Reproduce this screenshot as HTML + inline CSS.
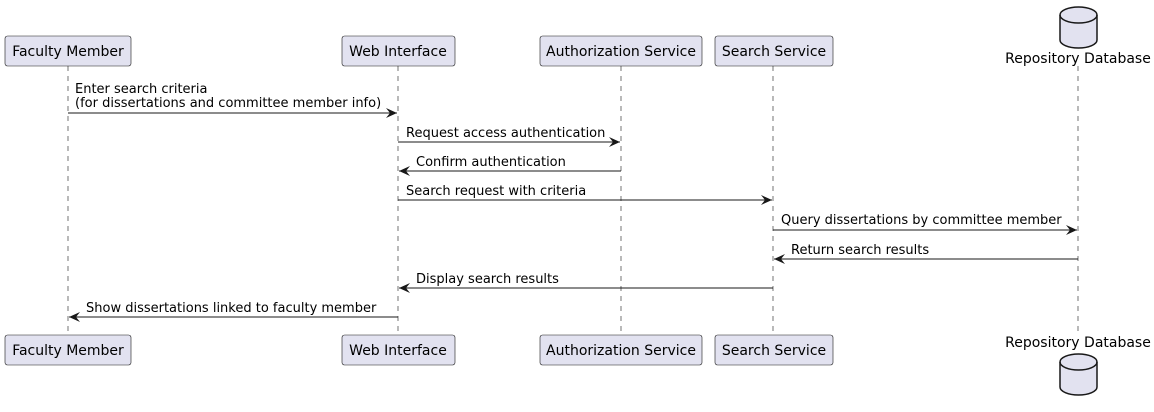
<!DOCTYPE html>
<html><head><style>body{margin:0;background:#fff}svg{display:block}text{font-family:"DejaVu Sans",sans-serif;font-size:13px;fill:#000}.h{font-size:14px}</style></head><body>
<svg width="1154" height="412" xmlns="http://www.w3.org/2000/svg">
<defs><marker id="a" markerWidth="12" markerHeight="10" refX="11" refY="5" orient="auto" markerUnits="userSpaceOnUse"><path d="M0,0 L11,5 L0,10 L4,5 Z" fill="#181818"/></marker></defs>
<g stroke="#181818" stroke-width="0.6" stroke-dasharray="5,5">
<line x1="68" y1="66" x2="68" y2="335"/><line x1="398" y1="66" x2="398" y2="335"/><line x1="621" y1="66" x2="621" y2="335"/><line x1="773" y1="66" x2="773" y2="335"/><line x1="1078" y1="66" x2="1078" y2="335"/>
</g>
<g fill="#E2E2F0" stroke="#181818" stroke-width="0.6">
<rect x="5" y="36" width="126" height="30" rx="2.5"/><rect x="342" y="36" width="113" height="30" rx="2.5"/><rect x="540" y="36" width="162" height="30" rx="2.5"/><rect x="715" y="36" width="118" height="30" rx="2.5"/>
<rect x="5" y="335" width="126" height="30" rx="2.5"/><rect x="342" y="335" width="113" height="30" rx="2.5"/><rect x="540" y="335" width="162" height="30" rx="2.5"/><rect x="715" y="335" width="118" height="30" rx="2.5"/>
</g>
<g fill="#E2E2F0" stroke="#181818" stroke-width="1.5">
<path d="M1060,15 A18.5,8 0 0 1 1097,15 L1097,40 A18.5,8 0 0 1 1060,40 Z"/><path d="M1060,15 A18.5,8 0 0 0 1097,15" fill="none"/>
<path d="M1060,362 A18.5,8 0 0 1 1097,362 L1097,387 A18.5,8 0 0 1 1060,387 Z"/><path d="M1060,362 A18.5,8 0 0 0 1097,362" fill="none"/>
</g>
<g text-anchor="middle" class="h">
<text class="h" x="68" y="56">Faculty Member</text><text class="h" x="398" y="56">Web Interface</text><text class="h" x="621" y="56">Authorization Service</text><text class="h" x="774" y="56">Search Service</text><text class="h" x="1078" y="63">Repository Database</text>
<text class="h" x="68" y="355">Faculty Member</text><text class="h" x="398" y="355">Web Interface</text><text class="h" x="621" y="355">Authorization Service</text><text class="h" x="774" y="355">Search Service</text><text class="h" x="1078" y="347">Repository Database</text>
</g>
<g stroke="#181818" stroke-width="1" marker-end="url(#a)">
<line x1="68" y1="113" x2="397" y2="113"/><line x1="398" y1="142" x2="620" y2="142"/><line x1="621" y1="171" x2="399" y2="171"/><line x1="398" y1="200" x2="772" y2="200"/><line x1="773" y1="230" x2="1077" y2="230"/><line x1="1078" y1="259" x2="774" y2="259"/><line x1="773" y1="288" x2="399" y2="288"/><line x1="398" y1="317" x2="69" y2="317"/>
</g>
<text x="75" y="93">Enter search criteria</text><text x="75" y="107">(for dissertations and committee member info)</text>
<text x="406" y="137">Request access authentication</text>
<text x="416" y="166">Confirm authentication</text>
<text x="406" y="195">Search request with criteria</text>
<text x="781" y="224">Query dissertations by committee member</text>
<text x="791" y="254">Return search results</text>
<text x="416" y="283">Display search results</text>
<text x="86" y="312">Show dissertations linked to faculty member</text>
</svg>
</body></html>
